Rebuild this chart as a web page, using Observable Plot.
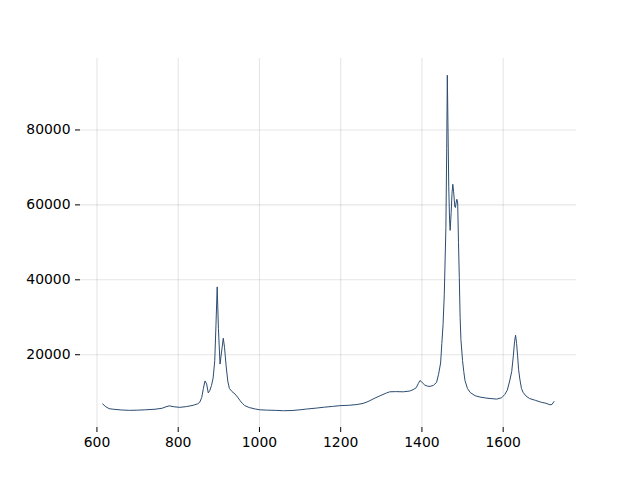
<!DOCTYPE html>
<html>
<head>
<meta charset="utf-8">
<script src="https://cdn.jsdelivr.net/npm/d3@7"></script>
<script src="https://cdn.jsdelivr.net/npm/@observablehq/plot@0.6"></script>
<style>
  html, body { margin: 0; padding: 0; background: #fff; }
  #chart svg { display: block; }
</style>
</head>
<body>
<div id="chart"></div>
<script>
const wavenumber = [614, 622, 630, 640, 660, 680, 700, 720, 743, 760, 770, 778, 790, 804, 820, 837, 848, 853, 858, 862, 866, 870, 874, 878, 882, 886, 890, 893, 896, 899, 903, 907, 911, 914, 918, 922, 926, 932, 940, 946, 952, 958, 964, 975, 990, 1001, 1020, 1040, 1059, 1080, 1100, 1116, 1140, 1160, 1180, 1198, 1220, 1240, 1255, 1265, 1272, 1280, 1297, 1313, 1321, 1335, 1354, 1370, 1378, 1386, 1391, 1395, 1399, 1403, 1407, 1414, 1420, 1428, 1436, 1441, 1446, 1449, 1452, 1455, 1457, 1459, 1461, 1462.5, 1464, 1466, 1468, 1469.5, 1472, 1474, 1476, 1478, 1481, 1482.5, 1484, 1486, 1488, 1490, 1492, 1494, 1496, 1500, 1503, 1506, 1512, 1519, 1531, 1543, 1560, 1584, 1596, 1604, 1610, 1616, 1621, 1625, 1628, 1630.5, 1633, 1635.5, 1638, 1641, 1645, 1649, 1656, 1665, 1680, 1694, 1705, 1715, 1720, 1725];
const intensity = [6850, 6100, 5600, 5450, 5250, 5150, 5200, 5300, 5450, 5700, 6100, 6350, 6100, 5950, 6150, 6500, 6900, 7300, 8600, 11000, 13000, 12200, 9800, 10500, 11800, 13800, 18400, 28000, 38100, 27000, 17500, 21000, 24400, 22000, 17000, 13000, 11000, 10200, 9500, 8700, 7800, 7000, 6400, 5900, 5500, 5300, 5200, 5150, 5050, 5100, 5300, 5500, 5750, 6000, 6200, 6400, 6500, 6700, 7000, 7400, 7750, 8200, 9050, 9800, 10100, 10150, 10100, 10300, 10650, 11200, 12300, 13100, 12800, 12300, 11900, 11600, 11550, 11800, 12600, 14800, 17800, 23000, 28000, 36000, 45000, 54000, 75000, 94600, 82000, 65000, 56000, 53200, 58000, 63000, 65500, 63500, 59500, 59300, 60500, 61500, 60500, 50000, 40600, 30000, 24000, 18400, 15500, 13100, 11000, 9900, 9050, 8700, 8400, 8150, 8500, 9400, 10500, 13000, 15500, 19700, 23500, 25200, 23000, 19700, 16000, 13500, 11000, 9950, 9000, 8300, 7800, 7300, 7050, 6650, 6700, 7500];
const xTicks = [600, 800, 1000, 1200, 1400, 1600];
const yTicks = [20000, 40000, 60000, 80000];

const data = wavenumber.map((x, i) => ({x, y: intensity[i]}));

const chart = Plot.plot({
  width: 640,
  height: 480,
  marginLeft: 80,
  marginRight: 64,
  marginTop: 58,
  marginBottom: 53,
  style: {fontFamily: "DejaVu Sans", fontSize: "13.9px", color: "#000", background: "#fff"},
  x: {domain: [559.5, 1780.5]},
  y: {domain: [572, 99078]},
  marks: [
    Plot.gridX(xTicks, {stroke: "#000", strokeOpacity: 0.1, strokeWidth: 1.1}),
    Plot.gridY(yTicks, {stroke: "#000", strokeOpacity: 0.1, strokeWidth: 1.1}),
    Plot.axisX(xTicks, {tickSize: 5, tickPadding: 5, label: null, tickFormat: d => String(d), strokeWidth: 1}),
    Plot.axisY(yTicks, {tickSize: 5, tickPadding: 5, label: null, tickFormat: d => String(d), strokeWidth: 1}),
    Plot.line(data, {x: "x", y: "y", stroke: "#2c4c70", strokeWidth: 1})
  ]
});
document.getElementById("chart").append(chart);
</script>
</body>
</html>
